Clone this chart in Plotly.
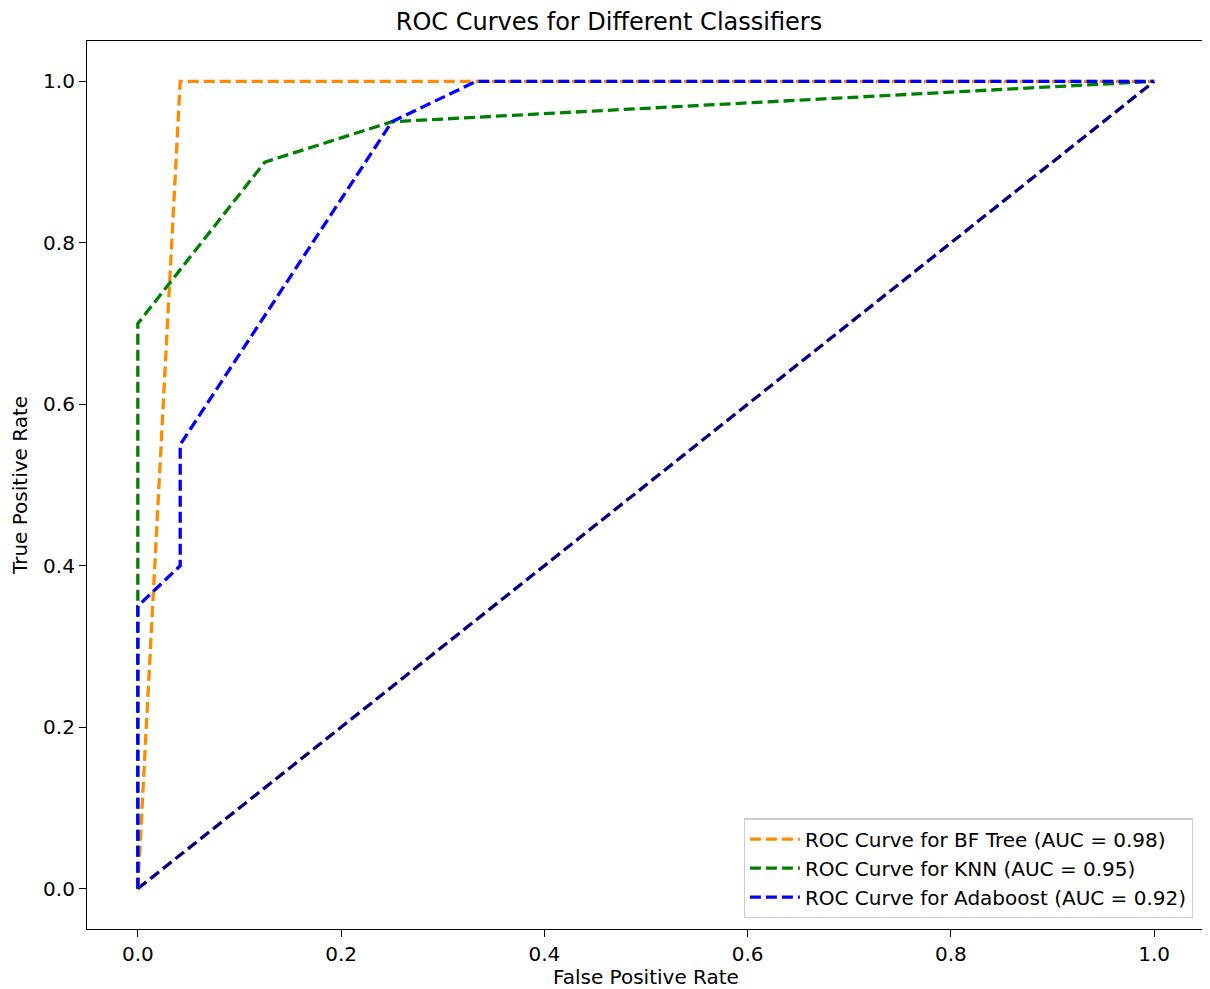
import plotly.graph_objects as go

# Data
bf_fpr = [0.0, 0.0417, 1.0]
bf_tpr = [0.0, 1.0, 1.0]

knn_fpr = [0.0, 0.0, 0.125, 0.25, 1.0]
knn_tpr = [0.0, 0.70, 0.90, 0.95, 1.0]

ada_fpr = [0.0, 0.0, 0.0417, 0.0417, 0.25, 0.333, 1.0]
ada_tpr = [0.0, 0.35, 0.40, 0.55, 0.95, 1.0, 1.0]

diag_x = [0.0, 1.0]
diag_y = [0.0, 1.0]

names = ["ROC Curve for BF Tree (AUC = 0.98)",
         "ROC Curve for KNN (AUC = 0.95)",
         "ROC Curve for Adaboost (AUC = 0.92)"]
colors = ["#ff8c00", "#008000", "#0000ff"]

dash = "11px,5px"
lw = 3.3

fig = go.Figure()
fig.add_trace(go.Scatter(x=diag_x, y=diag_y, mode="lines", showlegend=False,
                         line=dict(color="#000080", width=lw, dash=dash)))
fig.add_trace(go.Scatter(x=bf_fpr, y=bf_tpr, mode="lines", name=names[0],
                         line=dict(color=colors[0], width=lw, dash=dash)))
fig.add_trace(go.Scatter(x=knn_fpr, y=knn_tpr, mode="lines", name=names[1],
                         line=dict(color=colors[1], width=lw, dash=dash)))
fig.add_trace(go.Scatter(x=ada_fpr, y=ada_tpr, mode="lines", name=names[2],
                         line=dict(color=colors[2], width=lw, dash=dash)))

font_family = "DejaVu Sans"
axis_common = dict(showgrid=False, zeroline=False, showline=True, linecolor="#000000",
                   linewidth=1.2, mirror=True, ticks="outside", ticklen=7, tickwidth=1.2,
                   tickcolor="#000000", tickfont=dict(size=20, color="#000000", family=font_family))

fig.update_layout(
    width=1202, height=981,
    margin=dict(l=79, r=5, t=33, b=60),
    paper_bgcolor="white", plot_bgcolor="white",
    title=dict(text="ROC Curves for Different Classifiers", x=0.5, xanchor="center",
               y=1 - 14 / 981, yanchor="middle",
               font=dict(size=24, color="#000000", family=font_family)),
    xaxis=dict(range=[-0.05, 1.05], tickvals=[0, 0.2, 0.4, 0.6, 0.8, 1.0],
               tickformat=".1f", automargin=False,
               title=dict(text="False Positive Rate", standoff=8,
                          font=dict(size=20, color="#000000", family=font_family)),
               **axis_common),
    yaxis=dict(range=[-0.05, 1.05], tickvals=[0, 0.2, 0.4, 0.6, 0.8, 1.0],
               tickformat=".1f", automargin=False,
               title=dict(text="True Positive Rate", standoff=12,
                          font=dict(size=20, color="#000000", family=font_family)),
               **axis_common),
    legend=dict(x=0.989, y=0.012, xanchor="right", yanchor="bottom",
                bgcolor="rgba(255,255,255,0.8)", bordercolor="#cccccc", borderwidth=1.2,
                font=dict(size=20, color="#000000", family=font_family),
                itemwidth=50),
)

fig.write_html("out.html")
